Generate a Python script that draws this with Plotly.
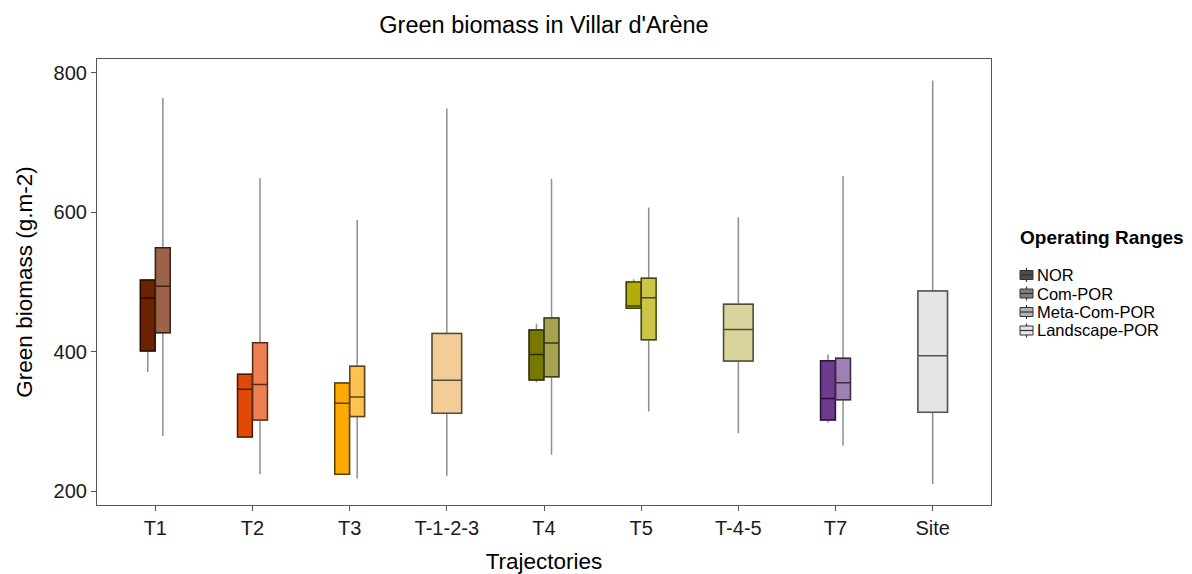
import plotly.graph_objects as go

# ---------------- data ----------------
categories = ["T1", "T2", "T3", "T-1-2-3", "T4", "T5", "T-4-5", "T7", "Site"]
ranges = ["NOR", "Com-POR", "Meta-Com-POR", "Landscape-POR"]

nor_cats = ["T1", "T2", "T3", "T4", "T5", "T7"]
nor_low = [371, 276, 224, 356, 462, 298]
nor_q1 = [401, 277.5, 224, 359.5, 462.5, 302]
nor_med = [477, 346, 326, 396, 465.5, 333]
nor_q3 = [503, 367.5, 355, 431, 500, 387]
nor_high = [504, 368, 356.5, 440, 504, 396]
nor_colors = ["#6B2200", "#E04A06", "#FFAA00", "#787800", "#B3AD0A", "#6E3A8E"]

com_cats = ["T1", "T2", "T3", "T4", "T5", "T7"]
com_low = [279, 224, 218, 252, 314, 265]
com_q1 = [427, 302, 307, 364, 417, 331]
com_med = [494, 353, 335, 412.5, 477.5, 355.5]
com_q3 = [549, 413, 379, 448.5, 505.5, 390.5]
com_high = [764, 649, 589, 648, 607, 652]
com_colors = ["#9C6348", "#EC8050", "#FFC24E", "#A7A24F", "#CCC648", "#9E80B2"]

meta_cats = ["T-1-2-3", "T-4-5"]
meta_low = [222, 283]
meta_q1 = [311.5, 386.5]
meta_med = [359, 432]
meta_q3 = [426, 468]
meta_high = [749, 593]
meta_colors = ["#F3CD96", "#D8D49C"]

land_cats = ["Site"]
land_low = [210]
land_q1 = [313]
land_med = [394]
land_q3 = [487]
land_high = [789]
land_colors = ["#E5E5E5"]

legend_fills = ["#4D4D4D", "#7F7F7F", "#B3B3B3", "#E5E5E5"]

y_ticks = [200, 400, 600, 800]

# ---------------- layout constants ----------------
OFF = 8                      # page body margin
W, H = 1184, 566
ML, MR, MT, MB = 89, 201, 51, 69
PW, PH = W - ML - MR, H - MT - MB
FONT = "Liberation Sans, Arial, sans-serif"
WHISKER = "#8F8F8F"
TOTAL_W = 0.31

groups = [
    (nor_cats, nor_low, nor_q1, nor_med, nor_q3, nor_high, nor_colors),
    (com_cats, com_low, com_q1, com_med, com_q3, com_high, com_colors),
    (meta_cats, meta_low, meta_q1, meta_med, meta_q3, meta_high, meta_colors),
    (land_cats, land_low, land_q1, land_med, land_q3, land_high, land_colors),
]

# how many operating ranges per category (for dodging)
present = {c: [] for c in categories}
for gi, g in enumerate(groups):
    for c in g[0]:
        present[c].append(gi)


def darker(hexcol, f):
    h = hexcol.lstrip("#")
    r, g, b = int(h[0:2], 16), int(h[2:4], 16), int(h[4:6], 16)
    return "rgb(%d,%d,%d)" % (r * f, g * f, b * f)


fig = go.Figure()
boxes = []
for gi, (cats, low, q1, med, q3, high, cols) in enumerate(groups):
    for i, c in enumerate(cats):
        slots = present[c]
        n = len(slots)
        k = slots.index(gi)
        w = TOTAL_W / n
        pos = categories.index(c) + 1 + (k - (n - 1) / 2) * w
        boxes.append((pos, w, low[i], q1[i], med[i], q3[i], high[i], cols[i]))

# whiskers (grey)
for pos, w, lo, a, m, b, hi, col in boxes:
    fig.add_trace(go.Box(
        x=[pos], q1=[a], median=[m], q3=[b], lowerfence=[lo], upperfence=[hi],
        width=w * 0.98, whiskerwidth=0, fillcolor=col,
        line=dict(color=WHISKER, width=1.5), boxpoints=False,
        showlegend=False, hoverinfo="skip"))
# boxes
for pos, w, lo, a, m, b, hi, col in boxes:
    fig.add_trace(go.Box(
        x=[pos], q1=[a], median=[m], q3=[b], lowerfence=[a], upperfence=[b],
        width=w * 0.98, whiskerwidth=0, fillcolor=col,
        line=dict(color=darker(col, 0.36), width=1.5), boxpoints=False,
        showlegend=False))


# screen pixel -> paper coordinate
def px(xs):
    return (xs - OFF - ML) / PW


def py(ys):
    return (H - MB - (ys - OFF)) / PH


# custom legend (ggplot style)
annotations = []
shapes = []
lx0 = 1020
item_y = [275, 293.5, 312, 330.5]

annotations.append(dict(
    text="<b>Operating Ranges</b>", xref="paper", yref="paper",
    x=px(1018), y=py(237), xanchor="left", yanchor="middle", showarrow=False,
    font=dict(family=FONT, size=19, color="#000000")))
for name, fill, yc in zip(ranges, legend_fills, item_y):
    shapes.append(dict(type="line", xref="paper", yref="paper",
                       x0=px(lx0 + 6.5), x1=px(lx0 + 6.5), y0=py(yc - 7), y1=py(yc + 7),
                       line=dict(color="#333333", width=1.2)))
    shapes.append(dict(type="rect", xref="paper", yref="paper",
                       x0=px(lx0), x1=px(lx0 + 13), y0=py(yc - 4.5), y1=py(yc + 4.5),
                       fillcolor=fill, line=dict(color="#333333", width=1)))
    shapes.append(dict(type="line", xref="paper", yref="paper",
                       x0=px(lx0), x1=px(lx0 + 13), y0=py(yc), y1=py(yc),
                       line=dict(color="#333333", width=1.2)))
    annotations.append(dict(
        text=name, xref="paper", yref="paper", x=px(1035), y=py(yc),
        xanchor="left", yanchor="middle", showarrow=False,
        font=dict(family=FONT, size=16.5, color="#000000")))

fig.update_layout(
    width=W, height=H,
    margin=dict(l=ML, r=MR, t=MT, b=MB, pad=0, autoexpand=False),
    paper_bgcolor="white", plot_bgcolor="white",
    font=dict(family=FONT, size=20, color="#1a1a1a"),
    title=dict(text="Green biomass in Villar d'Arène", x=(ML + PW / 2) / W, xanchor="center",
               y=1 - (25 - OFF) / H, yanchor="middle",
               font=dict(family=FONT, size=23.5, color="#000000")),
    showlegend=False,
    annotations=annotations,
    shapes=shapes,
    xaxis=dict(
        range=[0.4, len(categories) + 0.6], automargin=False,
        tickmode="array", tickvals=list(range(1, len(categories) + 1)), ticktext=categories,
        showgrid=False, zeroline=False, showline=True, mirror=True,
        linecolor="#555555", linewidth=1.2, ticks="outside", ticklen=5, tickcolor="#555555",
        tickfont=dict(family=FONT, size=20, color="#1a1a1a"),
        title=dict(text="Trajectories", standoff=18,
                   font=dict(family=FONT, size=22.5, color="#000000")),
    ),
    yaxis=dict(
        range=[180, 820], tickvals=y_ticks, automargin=False,
        showgrid=False, zeroline=False, showline=True, mirror=True,
        linecolor="#555555", linewidth=1.2, ticks="outside", ticklen=5, tickcolor="#555555",
        tickfont=dict(family=FONT, size=20, color="#1a1a1a"),
        title=dict(text="Green biomass (g.m-2)", standoff=14,
                   font=dict(family=FONT, size=22.5, color="#000000")),
    ),
)

fig.write_html("out.html")
